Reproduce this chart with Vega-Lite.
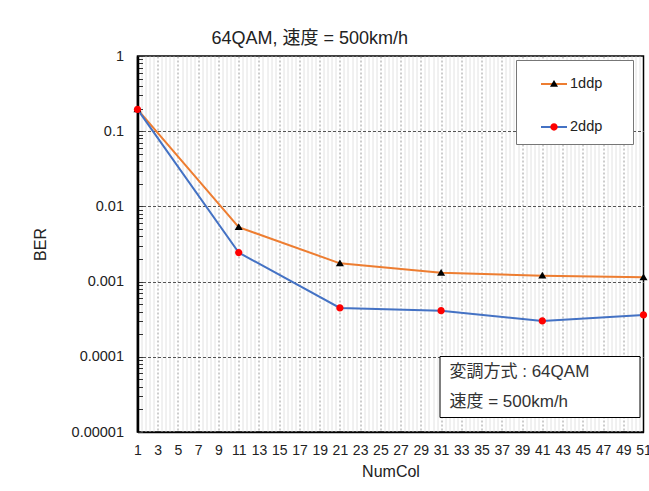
{
  "$schema": "https://vega.github.io/schema/vega-lite/v6.json",
  "width": 506,
  "height": 376,
  "autosize": {"type": "none"},
  "padding": {"left": 137.5, "top": 56, "right": 5.5, "bottom": 59},
  "background": "white",
  "config": {
    "font": "Liberation Sans, Noto Sans CJK JP",
    "view": {"stroke": "black", "strokeWidth": 1.5}
  },
  "title": {
    "text": "64QAM, 速度 = 500km/h",
    "anchor": "start",
    "frame": "group",
    "dx": 74,
    "fontSize": 18,
    "fontWeight": "normal",
    "offset": 0,
    "color": "#222",
    "font": "Liberation Sans, Noto Sans CJK JP"
  },
  "datasets": {
    "ber": [
      {"NumCol": 1, "BER": 0.195, "series": "1ddp"},
      {"NumCol": 11, "BER": 0.0053, "series": "1ddp"},
      {"NumCol": 21, "BER": 0.00175, "series": "1ddp"},
      {"NumCol": 31, "BER": 0.00131, "series": "1ddp"},
      {"NumCol": 41, "BER": 0.0012, "series": "1ddp"},
      {"NumCol": 51, "BER": 0.00114, "series": "1ddp"},
      {"NumCol": 1, "BER": 0.195, "series": "2ddp"},
      {"NumCol": 11, "BER": 0.00243, "series": "2ddp"},
      {"NumCol": 21, "BER": 0.000447, "series": "2ddp"},
      {"NumCol": 31, "BER": 0.000411, "series": "2ddp"},
      {"NumCol": 41, "BER": 0.0003, "series": "2ddp"},
      {"NumCol": 51, "BER": 0.00036, "series": "2ddp"}
    ],
    "notes": [
      {"note": "変調方式 : 64QAM"},
      {"note": "速度 = 500km/h"}
    ]
  },
  "resolve": {"axis": {"x": "independent", "y": "independent"}},
  "layer": [
    {
      "data": {"name": "ber"},
      "mark": {"type": "line", "strokeOpacity": 0},
      "encoding": {
        "x": {
          "field": "NumCol", "type": "quantitative",
          "scale": {"domain": [1, 51], "nice": false, "zero": false},
          "axis": {
            "orient": "bottom", "title": null, "labels": false, "ticks": false, "domain": false,
            "grid": true, "gridColor": "#e2e2e2", "gridWidth": 1,
            "values": [1.4,1.8,2.2,2.6,3.4,3.8,4.2,4.6,5.4,5.8,6.2,6.6,7.4,7.8,8.2,8.6,9.4,9.8,10.2,10.6,11.4,11.8,12.2,12.6,13.4,13.8,14.2,14.6,15.4,15.8,16.2,16.6,17.4,17.8,18.2,18.6,19.4,19.8,20.2,20.6,21.4,21.8,22.2,22.6,23.4,23.8,24.2,24.6,25.4,25.8,26.2,26.6,27.4,27.8,28.2,28.6,29.4,29.8,30.2,30.6,31.4,31.8,32.2,32.6,33.4,33.8,34.2,34.6,35.4,35.8,36.2,36.6,37.4,37.8,38.2,38.6,39.4,39.8,40.2,40.6,41.4,41.8,42.2,42.6,43.4,43.8,44.2,44.6,45.4,45.8,46.2,46.6,47.4,47.8,48.2,48.6,49.4,49.8,50.2,50.6]
          }
        },
        "y": {
          "field": "BER", "type": "quantitative",
          "scale": {"type": "log", "domain": [0.00001, 1], "nice": false},
          "axis": {
            "orient": "left", "title": null, "labels": false, "grid": false, "domain": false,
            "ticks": true, "tickSize": -5, "tickColor": "#333", "tickWidth": 1,
            "values": [0.00001,0.00002,0.00003,0.00004,0.00005,0.00006,0.00007,0.00008,0.00009,0.0001,0.0002,0.0003,0.0004,0.0005,0.0006,0.0007,0.0008,0.0009,0.001,0.002,0.003,0.004,0.005,0.006,0.007,0.008,0.009,0.01,0.02,0.03,0.04,0.05,0.06,0.07,0.08,0.09,0.1,0.2,0.3,0.4,0.5,0.6,0.7,0.8,0.9,1]
          }
        }
      }
    },
    {
      "data": {"name": "ber"},
      "mark": {"type": "line", "strokeOpacity": 0},
      "encoding": {
        "x": {
          "field": "NumCol", "type": "quantitative",
          "axis": {
            "orient": "bottom", "title": null, "labels": false, "ticks": false, "domain": false,
            "grid": true, "gridColor": "#9a9a9a", "gridWidth": 1, "gridDash": [2, 2],
            "values": [3,5,7,9,11,13,15,17,19,21,23,25,27,29,31,33,35,37,39,41,43,45,47,49]
          }
        },
        "y": {
          "field": "BER", "type": "quantitative",
          "axis": {
            "orient": "left", "title": null, "labels": false, "ticks": false, "domain": false,
            "grid": true, "gridColor": "#555", "gridWidth": 1, "gridDash": [3, 2],
            "values": [0.0001, 0.001, 0.01, 0.1]
          }
        }
      }
    },
    {
      "data": {"name": "ber"},
      "mark": {"type": "line", "strokeWidth": 2},
      "encoding": {
        "x": {
          "field": "NumCol", "type": "quantitative",
          "axis": {
            "orient": "bottom", "title": "NumCol", "grid": false, "ticks": false,
            "domain": true, "domainColor": "black", "domainWidth": 1.5,
            "values": [1,3,5,7,9,11,13,15,17,19,21,23,25,27,29,31,33,35,37,39,41,43,45,47,49,51],
            "labelFontSize": 14, "labelColor": "#222", "labelPadding": 11,
            "labelOverlap": false, "labelFlush": false,
            "titleFontSize": 16, "titleFontWeight": "normal", "titleColor": "#222", "titlePadding": 6
          }
        },
        "y": {
          "field": "BER", "type": "quantitative",
          "axis": {
            "orient": "left", "title": "BER", "grid": false, "ticks": false,
            "domain": true, "domainColor": "black", "domainWidth": 2.5,
            "values": [0.00001, 0.0001, 0.001, 0.01, 0.1, 1],
            "format": ".5~f",
            "labelFontSize": 14.5, "labelColor": "#222", "labelPadding": 14,
            "labelOverlap": false, "labelFlush": false,
            "titleFontSize": 16, "titleFontWeight": "normal", "titleColor": "#222", "titlePadding": 23
          }
        },
        "stroke": {
          "field": "series", "type": "nominal",
          "scale": {"domain": ["1ddp", "2ddp"], "range": ["#ED7D31", "#4472C4"]},
          "legend": {
            "title": null, "orient": "none", "legendX": 378.5, "legendY": 4, "direction": "vertical",
            "padding": 10, "rowPadding": 22,
            "symbolType": "stroke", "symbolSize": 676, "symbolStrokeWidth": 2, "symbolOffset": 14,
            "labelOffset": 2, "labelFontSize": 14.5, "labelColor": "#222",
            "labelExpr": "datum.label + '\u00a0\u00a0\u00a0\u00a0\u00a0\u200b'",
            "fillColor": "white", "strokeColor": "#777", "zindex": 1
          }
        }
      }
    },
    {
      "data": {"name": "ber"},
      "mark": {"type": "point", "filled": true, "size": 676, "opacity": 1, "strokeWidth": 0},
      "encoding": {
        "x": {"field": "NumCol", "type": "quantitative", "axis": null},
        "y": {"field": "BER", "type": "quantitative", "axis": null},
        "shape": {
          "field": "series", "type": "nominal",
          "scale": {"domain": ["2ddp", "1ddp"], "range": ["M-0.28,0A0.28,0.28,0,1,0,0.28,0A0.28,0.28,0,1,0,-0.28,0Z", "M0,-0.3L0.31,0.22L-0.31,0.22Z"]},
          "legend": {
            "title": null, "orient": "none", "legendX": 378.5, "legendY": 4, "direction": "vertical",
            "values": ["1ddp", "2ddp"],
            "padding": 10, "rowPadding": 22,
            "symbolSize": 676, "symbolStrokeWidth": 2, "symbolOffset": 14, "symbolStrokeColor": "transparent",
            "labelOffset": 2, "labelFontSize": 14.5, "labelOpacity": 0,
            "labelExpr": "datum.label + '\u00a0\u00a0\u00a0\u00a0\u00a0\u200b'",
            "zindex": 2
          }
        },
        "fill": {
          "field": "series", "type": "nominal",
          "scale": {"domain": ["2ddp", "1ddp"], "range": ["#FF0000", "black"]},
          "legend": {
            "title": null, "orient": "none", "legendX": 378.5, "legendY": 4, "direction": "vertical",
            "values": ["1ddp", "2ddp"],
            "padding": 10, "rowPadding": 22,
            "symbolSize": 676, "symbolStrokeWidth": 2, "symbolOffset": 14, "symbolStrokeColor": "transparent",
            "labelOffset": 2, "labelFontSize": 14.5, "labelOpacity": 0,
            "labelExpr": "datum.label + '\u00a0\u00a0\u00a0\u00a0\u00a0\u200b'",
            "zindex": 2
          }
        }
      }
    },
    {
      "data": {"name": "notes"},
      "mark": {"type": "point", "opacity": 0},
      "encoding": {
        "strokeDash": {
          "field": "note", "type": "nominal",
          "scale": {"domain": ["変調方式 : 64QAM", "速度 = 500km/h"]},
          "legend": {
            "title": null, "orient": "none", "legendX": 302, "legendY": 300, "direction": "vertical",
            "padding": 7, "rowPadding": 12,
            "symbolOpacity": 0, "symbolSize": 0, "symbolStrokeWidth": 0,
            "labelOffset": -14, "labelFontSize": 17, "labelColor": "#333", "labelLimit": 500,
            "labelExpr": "datum.label + '\u00a0\u00a0\u00a0\u00a0\u00a0\u00a0\u00a0\u00a0\u00a0\u200b'",
            "fillColor": "white", "strokeColor": "black", "zindex": 1,
            "encode": {"legend": {"update": {"strokeWidth": {"value": 1.5}}}}
          }
        }
      }
    }
  ]
}
